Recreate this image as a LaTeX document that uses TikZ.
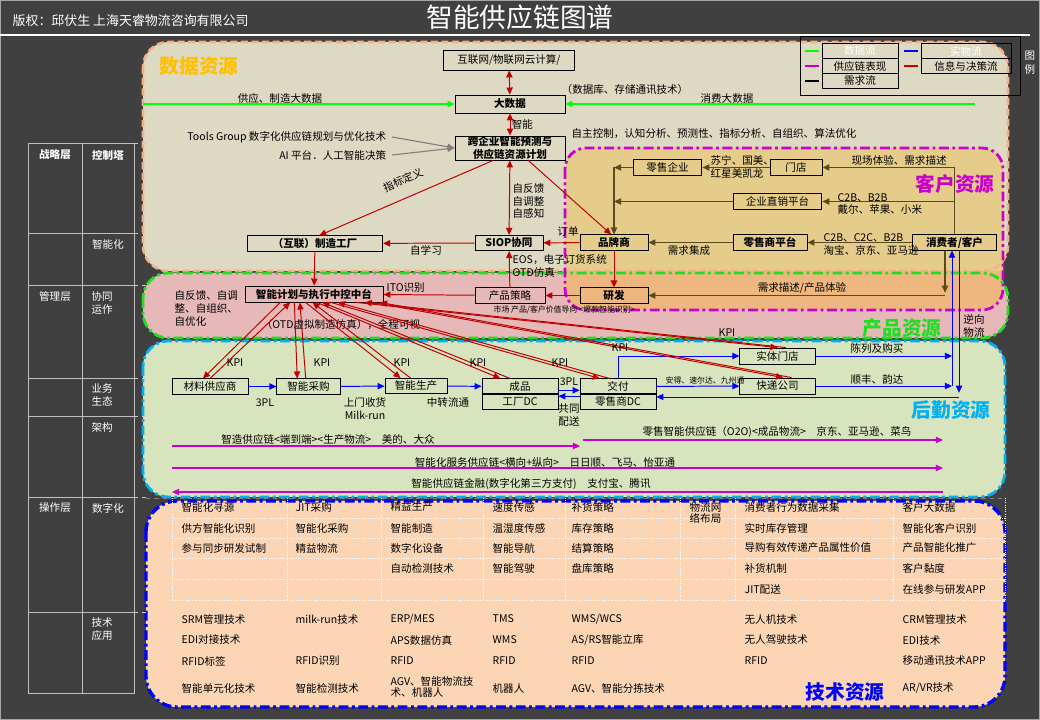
\documentclass[tikz,border=0pt]{standalone}
\usepackage{fontspec}
\setmainfont{Noto Sans CJK SC}
\usetikzlibrary{arrows.meta}
\definecolor{bgdark}{HTML}{404040}
\definecolor{datafill}{HTML}{DDD9C3}
\definecolor{dataline}{HTML}{F4B183}
\definecolor{custfill}{HTML}{E6CC8A}
\definecolor{mixfill}{HTML}{EDB77F}
\definecolor{prodfill}{HTML}{E6B9B8}
\definecolor{logifill}{HTML}{D7E4BD}
\definecolor{techfill}{HTML}{FCD5B5}
\definecolor{infored}{HTML}{C00000}
\definecolor{physblue}{HTML}{0000FF}
\definecolor{chainmag}{HTML}{CC00CC}
\definecolor{needdark}{HTML}{5A4A1C}
\definecolor{datagreen}{HTML}{00FF00}
\definecolor{zonegreen}{HTML}{22DD22}
\definecolor{cyanblue}{HTML}{00B0F0}
\definecolor{zoneorange}{HTML}{FFC000}
\definecolor{gridgray}{HTML}{BFBFBF}
\begin{document}
\begin{tikzpicture}[x=0.025cm,y=-0.025cm,>={Triangle[length=5pt,width=4.5pt]},
        every node/.style={font=\fontsize{7.5}{9.2}\selectfont,inner sep=1pt},
        box/.style={draw=black,line width=0.6pt,minimum height=0.38cm,inner sep=0pt},
        bbox/.style={box,font=\fontsize{7.5}{9}\selectfont\bfseries},
        info/.style={draw=infored,line width=0.7pt,->},
        phys/.style={draw=physblue,line width=0.7pt,->},
        need/.style={draw=needdark,line width=0.8pt,->},
        supply/.style={draw=chainmag,line width=0.8pt,->},
        dataflow/.style={draw=datagreen,line width=0.8pt,->},
        tool/.style={draw=gray,line width=0.8pt,->},
        area/.style={rounded corners=18pt,line width=1.8pt},
        dashdot/.style={dash pattern=on 7pt off 2.5pt on 2pt off 2.5pt},
        zone/.style={font=\fontsize{14}{16}\selectfont\bfseries},
        side/.style={text=white,anchor=north west,align=left},
        cell/.style={anchor=west},
        tiny/.style={font=\fontsize{5.6}{6.5}\selectfont}]
    \useasboundingbox (0,0) rectangle (1040,720);
    \fill[bgdark] (0,0) rectangle (1040,720);
    \draw[gray!70] (0.5,0.5) rectangle (1039.5,719.5);
    \draw[white,line width=0.8pt] (0,35) -- (1030,35);
    \node[text=white,font=\fontsize{19}{21}\selectfont] (title) at (520,17) {智能供应链图谱};
    \node[text=white,anchor=west,font=\fontsize{9.2}{11}\selectfont] (copy) at (11,21) {版权：邱伏生 上海天睿物流咨询有限公司};

    % areas
    \fill[datafill,area] (143,42) rectangle (1008,271);
    \fill[prodfill,area] (143,273) rectangle (1008,338);
    \fill[mixfill,rounded corners=15pt] (565,148) rectangle (1003,310);
    \begin{scope}
        \clip (0,0) rectangle (1040,271);
        \fill[custfill,rounded corners=15pt] (565,148) rectangle (1003,310);
    \end{scope}
    \fill[logifill,area] (143,341) rectangle (1005,497);
    \fill[techfill,rounded corners=22pt] (146,501) rectangle (1005,707);
    \draw[dataline,area,dash pattern=on 5pt off 2.5pt] (143,42) rectangle (1008,271);
    \draw[zonegreen,area,line width=2pt,dashdot] (143,273) rectangle (1008,338);
    \draw[chainmag,rounded corners=15pt,line width=2pt,dashdot] (565,148) rectangle (1003,310);
    \draw[cyanblue,area,line width=2pt,dashdot] (143,341) rectangle (1005,497);
    \draw[physblue,rounded corners=22pt,line width=2.4pt,dashdot] (146,501) rectangle (1005,707);
    \node[zone,text=zoneorange] (zdata) at (199,66) {数据资源};
    \node[zone,text=chainmag] (zcust) at (955,184) {客户资源};
    \node[zone,text=zonegreen] (zprod) at (902,328) {产品资源};
    \node[zone,text=cyanblue] (zlogi) at (951,410) {后勤资源};
    \node[zone,text=physblue] (ztech) at (845,692) {技术资源};

    % legend
    \draw[black,line width=0.6pt] (800,36) rectangle (1020,95);
    \node[box,minimum width=1.9cm,minimum height=0.375cm,text=white] (lgdata) at (860,51) {数据流};
    \node[box,minimum width=1.9cm,minimum height=0.375cm] (lgsupply) at (860,66) {供应链表现};
    \node[box,minimum width=1.9cm,minimum height=0.375cm] (lgneed) at (860,81) {需求流};
    \node[box,minimum width=2.25cm,minimum height=0.375cm,text=white] (lgphys) at (966,51) {实物流};
    \node[box,minimum width=2.25cm,minimum height=0.375cm] (lginfo) at (966,66) {信息与决策流};
    \draw[datagreen,line width=2pt] (lgdata.west) ++(-3,0) -- ++(-14,0);
    \draw[chainmag,line width=2pt] (lgsupply.west) ++(-3,0) -- ++(-14,0);
    \draw[black,line width=2pt] (lgneed.west) ++(-3,0) -- ++(-14,0);
    \draw[physblue,line width=2pt] (lgphys.west) ++(-3,0) -- ++(-14,0);
    \draw[infored,line width=2pt] (lginfo.west) ++(-3,0) -- ++(-14,0);
    \node[text=white,align=center,font=\fontsize{7.5}{10}\selectfont] (lgtitle) at (1030,63) {图\\例};

    % left table
    \draw[gridgray,line width=0.7pt] (28,143) rectangle (134,693);
    \draw[gridgray,line width=0.7pt] (82,143) -- (82,693);
    \foreach \r in {233,285,378,416,497,612}
        \draw[gridgray,line width=0.7pt] (28,\r) -- (134,\r);
    \foreach \r in {143,233,285,378,416,497,612}
        \draw[white!80!black,dashed,line width=0.5pt] (134,\r) -- (146,\r);
    \draw[white!85!black,dashed,line width=0.5pt] (146,143) -- (246,143);
    \node[text=white,font=\fontsize{7.5}{9}\selectfont\bfseries] (lvl1) at (55,155) {战略层};
    \node[text=white,font=\fontsize{7.5}{9}\selectfont\bfseries] (ctl) at (108,155) {控制塔};
    \node[text=white] (ctl1) at (108,244) {智能化};
    \node[text=white] (lvl2) at (55,297) {管理层};
    \node[side] (ctl2) at (90,290) {协同\\运作};
    \node[side] (ctl3) at (90,382) {业务\\生态};
    \node[side] (ctl4) at (90,421) {架构};
    \node[text=white] (lvl3) at (55,508) {操作层};
    \node[text=white] (ctl5) at (108,508) {数字化};
    \node[side] (ctl6) at (90,616) {技术\\应用};

    % customer resources
    \node[box,minimum width=1.72cm] (retail) at (667.5,167.5) {零售企业};
    \node[box,minimum width=1.3cm] (store) at (796,167.5) {门店};
    \node[box,minimum width=2.22cm] (direct) at (777.5,201.5) {企业直销平台};
    \node[bbox,minimum width=1.7cm] (brand) at (614,242.5) {品牌商};
    \node[bbox,minimum width=1.85cm] (platf) at (770,242.5) {零售商平台};
    \node[bbox,minimum width=2.08cm] (cust) at (954.5,242.5) {消费者/客户};
    \node[bbox,minimum width=1.7cm] (rnd) at (614,295.5) {研发};
    \coordinate (bj) at (614,167.5);
    \coordinate (bk) at (614,201.5);
    \coordinate (dd) at (945,295.5);
    \draw[need] (cust.north) |- (store.east);
    \draw[need] (cust.north) |- (direct.east);
    \draw[need] (store) -- (retail);
    \draw[need] (retail.west) -- (bj);
    \draw[need] (direct.west) -- (bk);
    \draw[need] (bj) -- (brand.north);
    \draw[need] (platf) -- (brand);
    \draw[need] (cust) -- (platf);
    \draw[need] (cust.south -| dd) -- ([yshift=2pt]dd);
    \draw[need] (dd) -- (rnd.east);
    \node[anchor=west,align=left] (lbsuning) at (709,167) {苏宁、国美、\\红星美凯龙};
    \node[anchor=west] (lbscene) at (850,160) {现场体验、需求描述};
    \node[anchor=west,align=left] (lbdell) at (836,204) {C2B、B2B\\戴尔、苹果、小米};
    \node[anchor=west,align=left] (lbtaobao) at (822,244.5) {C2B、C2C、B2B\\淘宝、京东、亚马逊};
    \node (lbinteg) at (689,251) {需求集成};
    \node (lbdesc) at (802,288) {需求描述/产品体验};

    % data resources
    \node[box,minimum width=3.28cm,minimum height=0.5cm] (web) at (509,60) {互联网/物联网云计算/};
    \node[bbox,minimum width=2.75cm,minimum height=0.45cm] (bd) at (510,104) {大数据};
    \node[bbox,minimum width=2.75cm,minimum height=0.6cm,align=center,font=\fontsize{7.5}{8.6}\selectfont\bfseries] (plan) at (510,148) {跨企业智能预测与\\供应链资源计划};
    \node[bbox,minimum width=3.38cm] (fac) at (315,243.5) {（互联）制造工厂};
    \node[bbox,minimum width=1.7cm] (siop) at (509,243) {SIOP协同};
    \node[bbox,minimum width=3.45cm,minimum height=0.4cm] (hub) at (314,294) {智能计划与执行中控中台};
    \node[box,minimum width=1.75cm] (strat) at (510,295.5) {产品策略};
    \coordinate (dl) at (143,104);
    \coordinate (dr) at (975,104);
    \draw[dataflow] (dl) -- (bd.west);
    \draw[dataflow] (dr) -- (bd.east);
    \node (lbsup) at (280,98) {供应、制造大数据};
    \node (lbdb) at (625,89) {（数据库、存储通讯技术）};
    \node (lbcons) at (727,99) {消费大数据};
    \node[anchor=east,inner sep=4pt] (tg) at (392,137) {Tools Group 数字化供应链规划与优化技术};
    \node[anchor=east,inner sep=4pt] (ai) at (392,155) {AI 平台．人工智能决策};
    \draw[tool] (tg.east) -- (plan.west);
    \draw[tool] (ai.east) -- (plan.west);
    \node[anchor=west] (lbauto) at (570,134) {自主控制，认知分析、预测性、指标分析、自组织、算法优化};
    \draw[info,<->] (web) -- (bd);
    \draw[info,<->] (bd) -- node[right] (lbsmart) {智能} (plan);
    \draw[info] ([xshift=-12pt]plan.south) -- ([xshift=3pt]fac.north);
    \node[rotate=24] (lbdef) at (403,180) {指标定义};
    \draw[info] ([xshift=13pt]plan.south) -- ([xshift=-2pt]brand.north);
    \draw[info,<->] (plan) -- (siop);
    \node[anchor=west,align=left] (lbself) at (511,201) {自反馈\\自调整\\自感知};
    \draw[info] (siop) -- (fac);
    \node (lblearn) at (426,250) {自学习};
    \draw[info] (brand) -- (siop);
    \node (lborder) at (568,232) {订单};
    \node[anchor=west,align=left] (lbeos) at (511,266) {EOS，电子订货系统\\OTD仿真};
    \draw[info] (fac) -- (hub);
    \draw[info] (strat) -- (hub);
    \node[anchor=west] (lbito) at (385,288) {ITO识别};
    \draw[info] (rnd) -- (strat);
    \draw[info] (strat) -- (siop);
    \draw[info] (brand) -- (rnd);
    \node[tiny,anchor=west] (lbmkt) at (492,310) {市场 产品/客户价值导向 <爆款智能识别>};
    \node[anchor=north west,align=left] (lbfeed) at (173,289) {自反馈、自调\\整、自组织、\\自优化};
    \node (lbotd) at (341,325) {（OTD虚拟制造仿真），全程可视};

    % logistics resources
    \node[box,minimum width=1.9cm] (sup) at (210,386.5) {材料供应商};
    \node[box,minimum width=1.58cm] (buy) at (308.5,386.5) {智能采购};
    \node[box,minimum width=1.55cm] (make) at (416,386) {智能生产};
    \node[box,minimum width=1.9cm] (fin) at (520,386.5) {成品};
    \node[box,minimum width=1.9cm] (fdc) at (520,401.5) {工厂DC};
    \node[box,minimum width=1.9cm] (dlv) at (618,386.5) {交付};
    \node[box,minimum width=1.9cm] (rdc) at (618,401.5) {零售商DC};
    \node[box,minimum width=1.88cm,minimum height=0.4cm] (shop) at (777.5,356) {实体门店};
    \node[box,minimum width=1.88cm,minimum height=0.4cm] (exp) at (777.5,386) {快递公司};
    \coordinate (rl) at (952,356);
    \coordinate (rm) at (952,386);
    \coordinate (rv) at (959,397);
    \draw[phys] (sup) -- (buy);
    \draw[phys] (buy) -- (make);
    \draw[phys] (make) -- (fin);
    \draw[phys] ([yshift=3pt]fin.south east) -- ([yshift=3pt]dlv.south west);
    \draw[phys] ([yshift=-2pt]rdc.north west) -- ([yshift=-2pt]fdc.north east);
    \draw[phys] (dlv) -- (exp);
    \draw[phys] (dlv.north) |- (shop.west);
    \draw[phys] (shop) -- (rl);
    \draw[phys] (exp) -- (rm);
    \draw[phys] (rm) -- (rm |- cust.south);
    \draw[phys] (rv |- cust.south) -- ([yshift=3pt]rv);
    \draw[phys] (rv) -- (rv -| rdc.east);
    \node (lbpl1) at (265,403) {3PL};
    \node[align=center] (lbmilk) at (365,409) {上门收货\\Milk-run};
    \node (lbtrans) at (448,403) {中转流通};
    \node (lbpl2) at (569,382) {3PL};
    \node[align=center] (lbjoint) at (569,415) {共同\\配送};
    \node[tiny] (lbande) at (705,381) {安得、速尔达、九州通};
    \node (lbshow) at (877,348) {陈列及购买};
    \node (lbsf) at (877,379) {顺丰、韵达};
    \node[align=center] (lbback) at (974,326) {逆向\\物流};

    % KPI feedback
    \foreach \t/\a/\b/\c/\d in {sup/-24/-17/-5/0, buy/-14/-10/-8/-2, make/-6/-1/-11/-4,
            fin/2/6/-14/-7, dlv/12/17/-13/-6, shop/30/36/0/6, exp/42/47/4/10}{
        \draw[info] ([xshift=\a pt]hub.south) -- ([xshift=\c pt]\t.north);
        \draw[info] ([xshift=\d pt]\t.north) -- ([xshift=\b pt]hub.south);
    }
    \node (kpi1) at (235,363) {KPI};
    \node (kpi2) at (322,363) {KPI};
    \node (kpi3) at (402,363) {KPI};
    \node (kpi4) at (478,363) {KPI};
    \node (kpi5) at (560,363) {KPI};
    \node (kpi6) at (620,348) {KPI};
    \node (kpi7) at (727,333) {KPI};

    % supply chain lines
    \coordinate (m1a) at (172,446); \coordinate (m1b) at (580,446);
    \coordinate (m2a) at (583,440); \coordinate (m2b) at (943,440);
    \coordinate (m3a) at (172,468); \coordinate (m3b) at (943,468);
    \coordinate (m4a) at (943,492); \coordinate (m4b) at (172,492);
    \draw[supply] (m1a) -- (m1b);
    \draw[supply] (m2a) -- (m2b);
    \draw[supply] (m3a) -- (m3b);
    \draw[supply] (m4a) -- (m4b);
    \node (lbm1) at (328,439) {智造供应链<端到端><生产物流>\quad 美的、大众};
    \node (lbm2) at (777,432) {零售智能供应链（O2O)<成品物流>\quad 京东、亚马逊、菜鸟};
    \node (lbm3) at (545,462) {智能化服务供应链<横向+纵向>\quad 日日顺、飞马、怡亚通};
    \node (lbm4) at (531,484) {智能供应链金融(数字化第三方支付)\quad 支付宝、腾讯};

    % technology resources
    \draw[gray,dashed,line width=0.6pt] (146,498) -- (1005,498);
    \foreach \c in {172,287,381,483,565,680,735,893,1005}
        \draw[white,densely dotted,line width=0.6pt] (\c,498) -- (\c,600);
    \foreach \r in {518,538,558,579,600}
        \draw[white,densely dotted,line width=0.6pt] (172,\r) -- (1005,\r);
    \node[cell] (d11) at (180,507) {智能化寻源};
    \node[cell] (d12) at (180,528) {供方智能化识别};
    \node[cell] (d13) at (180,548) {参与同步研发试制};
    \node[cell] (d21) at (294,507) {JIT采购};
    \node[cell] (d22) at (294,528) {智能化采购};
    \node[cell] (d23) at (294,548) {精益物流};
    \node[cell] (d31) at (389,507) {精益生产};
    \node[cell] (d32) at (389,528) {智能制造};
    \node[cell] (d33) at (389,548) {数字化设备};
    \node[cell] (d34) at (389,568) {自动检测技术};
    \node[cell] (d41) at (491,507) {速度传感};
    \node[cell] (d42) at (491,528) {温湿度传感};
    \node[cell] (d43) at (491,548) {智能导航};
    \node[cell] (d44) at (491,568) {智能驾驶};
    \node[cell] (d51) at (570,507) {补货策略};
    \node[cell] (d52) at (570,528) {库存策略};
    \node[cell] (d53) at (570,548) {结算策略};
    \node[cell] (d54) at (570,568) {盘库策略};
    \node[cell,align=left,font=\fontsize{7.5}{8}\selectfont] (d61) at (688,513) {物流网\\络布局};
    \node[cell] (d71) at (743,507) {消费者行为数据采集};
    \node[cell] (d72) at (743,528) {实时库存管理};
    \node[cell] (d73) at (743,548) {导购有效传递产品属性价值};
    \node[cell] (d74) at (743,568) {补货机制};
    \node[cell] (d75) at (743,589) {JIT配送};
    \node[cell] (d81) at (901,507) {客户大数据};
    \node[cell] (d82) at (901,528) {智能化客户识别};
    \node[cell] (d83) at (901,548) {产品智能化推广};
    \node[cell] (d84) at (901,568) {客户黏度};
    \node[cell] (d85) at (901,589) {在线参与研发APP};
    \node[cell] (t11) at (180,619) {SRM管理技术};
    \node[cell] (t12) at (180,640) {EDI对接技术};
    \node[cell] (t13) at (180,661) {RFID标签};
    \node[cell] (t14) at (180,688) {智能单元化技术};
    \node[cell] (t21) at (294,619) {milk-run技术};
    \node[cell] (t23) at (294,661) {RFID识别};
    \node[cell] (t24) at (294,688) {智能检测技术};
    \node[cell] (t31) at (389,619) {ERP/MES};
    \node[cell] (t32) at (389,640) {APS数据仿真};
    \node[cell] (t33) at (389,661) {RFID};
    \node[cell,align=left,font=\fontsize{7.5}{8.2}\selectfont] (t34) at (389,687) {AGV、智能物流技\\术、机器人};
    \node[cell] (t41) at (491,619) {TMS};
    \node[cell] (t42) at (491,640) {WMS};
    \node[cell] (t43) at (491,661) {RFID};
    \node[cell] (t44) at (491,688) {机器人};
    \node[cell] (t51) at (570,619) {WMS/WCS};
    \node[cell] (t52) at (570,640) {AS/RS智能立库};
    \node[cell] (t53) at (570,661) {RFID};
    \node[cell] (t54) at (570,688) {AGV、智能分拣技术};
    \node[cell] (t71) at (743,619) {无人机技术};
    \node[cell] (t72) at (743,640) {无人驾驶技术};
    \node[cell] (t73) at (743,661) {RFID};
    \node[cell] (t81) at (901,619) {CRM管理技术};
    \node[cell] (t82) at (901,640) {EDI技术};
    \node[cell] (t83) at (901,661) {移动通讯技术APP};
    \node[cell] (t84) at (901,688) {AR/VR技术};
\end{tikzpicture}
\end{document}
